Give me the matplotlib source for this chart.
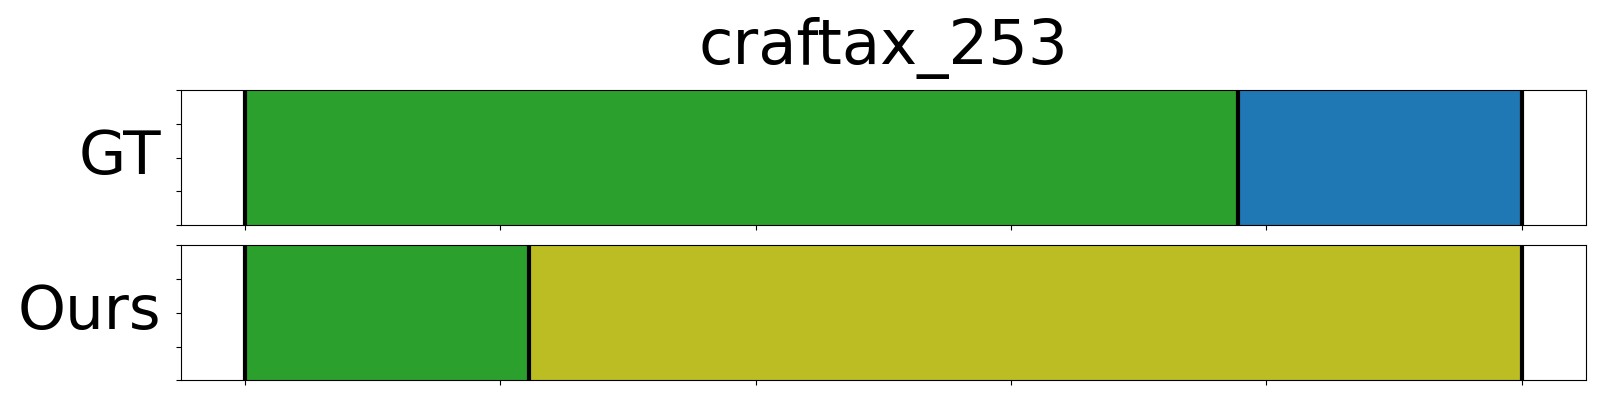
import matplotlib
matplotlib.use("Agg")
import matplotlib.pyplot as plt

title = "craftax_253"
row_names = ["GT", "Ours"]

# segment boundaries (steps) and segment colours per row
gt_bounds = [0, 194.5, 250]
gt_colors = ["tab:green", "tab:blue"]
ours_bounds = [0, 55.5, 250]
ours_colors = ["tab:green", "tab:olive"]

rows = [(gt_bounds, gt_colors), (ours_bounds, ours_colors)]

fig = plt.figure(figsize=(16, 4), dpi=100)
ax_top = fig.add_axes([0.1133, 0.437, 0.8777, 0.3375])
ax_bot = fig.add_axes([0.1133, 0.049, 0.8777, 0.3375])

for ax, name, (bounds, colors) in zip([ax_top, ax_bot], row_names, rows):
    for i, c in enumerate(colors):
        ax.axvspan(bounds[i], bounds[i + 1], color=c, lw=0)
    for b in bounds:
        ax.axvline(b, color="black", lw=3)
    ax.set_xlim(-12.5, 262.5)
    ax.set_ylim(0, 1)
    ax.set_xticks([0, 50, 100, 150, 200, 250])
    ax.set_xticklabels([])
    ax.set_yticks([0, 0.25, 0.5, 0.75, 1])
    ax.set_yticklabels([])
    ax.set_ylabel(name, rotation=0, ha="right", va="center", fontsize=44)
    ax.yaxis.set_label_coords(-0.0145, 0.5)

ax_top.set_title(title, fontsize=45, pad=19)

fig.savefig("out.png", dpi=100)
